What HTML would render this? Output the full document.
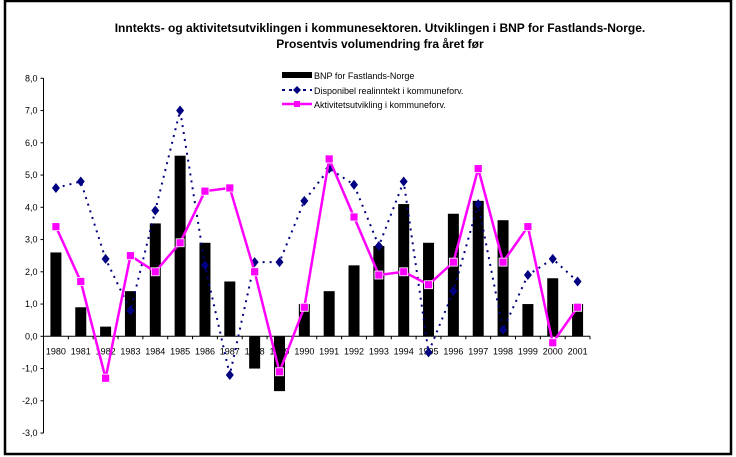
<!DOCTYPE html>
<html><head><meta charset="utf-8"><style>
body{margin:0;background:#fff;}
svg{display:block;font-family:"Liberation Sans",Arial,sans-serif;}
</style></head><body>
<svg id="chart" width="736" height="457">
<rect x="5" y="1" width="726" height="453" fill="#fff" stroke="#000" stroke-width="2.5"/>
<text x="380" y="32" text-anchor="middle" font-size="12" font-weight="bold">Inntekts- og aktivitetsutviklingen i kommunesektoren. Utviklingen i BNP for Fastlands-Norge.</text>
<text x="380" y="48" text-anchor="middle" font-size="12" font-weight="bold">Prosentvis volumendring fra året før</text>
<g id="axes"></g><g id="bars"></g><g id="lines"></g>
<g>
<rect x="282" y="72" width="30" height="6" fill="#000"/>
<text x="314" y="79" font-size="9">BNP for Fastlands-Norge</text>
<line x1="282" y1="90" x2="312" y2="90" stroke="#000080" stroke-width="2" stroke-dasharray="3,4"/>
<path d="M297 86 L301 90 L297 94 L293 90 Z" fill="#000080"/>
<text x="314" y="94" font-size="9">Disponibel realinntekt i kommuneforv.</text>
<line x1="282" y1="104" x2="312" y2="104" stroke="#ff00ff" stroke-width="2.5"/>
<rect x="294" y="101" width="6" height="6" fill="#ff00ff"/>
<text x="314" y="108" font-size="9">Aktivitetsutvikling i kommuneforv.</text>
</g>
</svg>
<script>
const years=["1980","1981","1982","1983","1984","1985","1986","1987","1988","1989","1990","1991","1992","1993","1994","1995","1996","1997","1998","1999","2000","2001"];
const bnp=[2.6,0.9,0.3,1.4,3.5,5.6,2.9,1.7,-1.0,-1.7,1.0,1.4,2.2,2.8,4.1,2.9,3.8,4.2,3.6,1.0,1.8,1.0];
const disp=[4.6,4.8,2.4,0.8,3.9,7.0,2.2,-1.2,2.3,2.3,4.2,5.2,4.7,2.8,4.8,-0.5,1.4,4.1,0.2,1.9,2.4,1.7];
const akt=[3.4,1.7,-1.3,2.5,2.0,2.9,4.5,4.6,2.0,-1.1,0.9,5.5,3.7,1.9,2.0,1.6,2.3,5.2,2.3,3.4,-0.2,0.9];
const yTicks=[8,7,6,5,4,3,2,1,0,-1,-2,-3];
const NS="http://www.w3.org/2000/svg";
const L=43.5,R=590,step=(R-L)/years.length;
const y=v=>336.3-v*32.25;
const x=i=>L+step*(i+0.5);
function mk(t,a,p){const e=document.createElementNS(NS,t);for(const k in a)e.setAttribute(k,a[k]);p.appendChild(e);return e;}
const ax=document.getElementById('axes'),bg=document.getElementById('bars'),lg=document.getElementById('lines');
let e=mk('line',{x1:L,y1:y(8),x2:L,y2:y(-3),stroke:'#000'},ax);


yTicks.forEach(v=>{
 mk('line',{x1:L-3,y1:y(v),x2:L,y2:y(v),stroke:'#000'},ax);
 const t=mk('text',{x:L-6,y:y(v)+3,'text-anchor':'end','font-size':9},ax);
 t.textContent=v.toFixed(1).replace('.',',');
 
 
});
e=mk('line',{x1:L,y1:y(0),x2:R,y2:y(0),stroke:'#000'},ax);


years.forEach((yr,i)=>{
 mk('line',{x1:L+step*(i+1),y1:y(0),x2:L+step*(i+1),y2:y(0)+3,stroke:'#000'},ax);
 const b=mk('rect',{x:x(i)-5.5,y:Math.min(y(0),y(bnp[i])),width:11,height:Math.abs(y(bnp[i])-y(0)),fill:'#000'},bg);
 
 
 const t=mk('text',{x:x(i),y:y(0)+18,'text-anchor':'middle','font-size':9},ax);
 t.textContent=yr;
 
 
});
const dp=disp.map((v,i)=>x(i)+','+y(v)).join(' ');
e=mk('polyline',{points:dp,fill:'none',stroke:'#000080','stroke-width':2,'stroke-dasharray':'2,5'},lg);


disp.forEach((v,i)=>{
 const m=mk('path',{d:`M${x(i)} ${y(v)-5}L${x(i)+4} ${y(v)}L${x(i)} ${y(v)+5}L${x(i)-4} ${y(v)}Z`,fill:'#000080'},lg);
 
 
});
const ap=akt.map((v,i)=>x(i)+','+y(v)).join(' ');
e=mk('polyline',{points:ap,fill:'none',stroke:'#ff00ff','stroke-width':2.5},lg);


akt.forEach((v,i)=>{
 const m=mk('rect',{x:x(i)-4,y:y(v)-4,width:8,height:8,fill:'#ff00ff',stroke:'#fff','stroke-width':0.8},lg);
 
 
});
</script>
</body></html>
